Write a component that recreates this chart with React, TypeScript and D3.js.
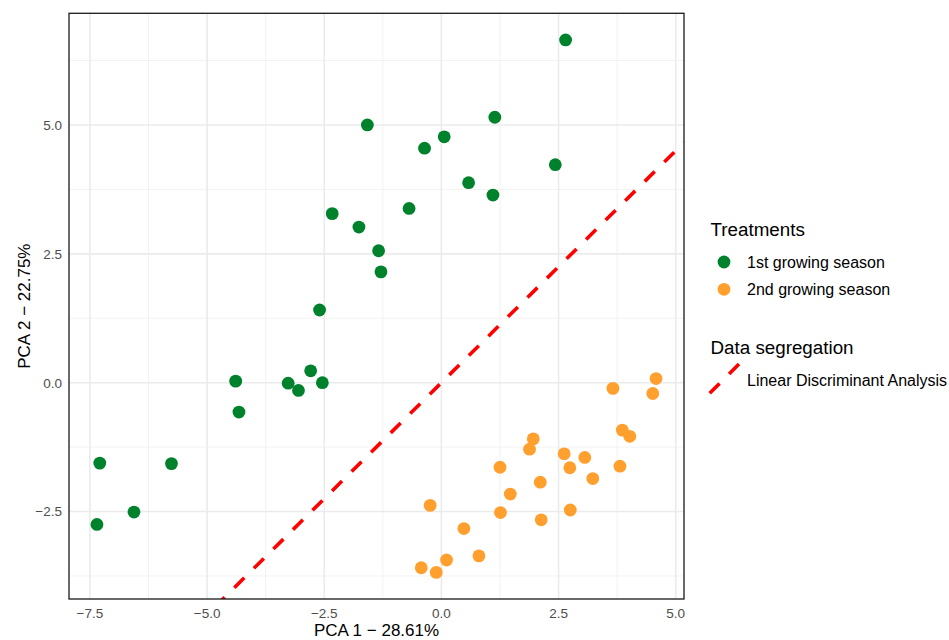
import React from "react";
import * as d3 from "d3";

// ---- data ----
const season1X = [2.65, -1.58, 1.14, 0.06, -0.36, 2.43, 0.58, 1.10, -0.69, -2.33, -1.76, -1.34, -1.29, -2.60, -4.39, -4.32, -3.27, -3.05, -2.79, -2.54, -7.29, -5.76, -6.56, -7.35];
const season1Y = [6.65, 5.00, 5.15, 4.77, 4.55, 4.23, 3.88, 3.64, 3.38, 3.28, 3.02, 2.56, 2.15, 1.41, 0.03, -0.57, -0.01, -0.15, 0.23, 0.00, -1.56, -1.57, -2.51, -2.75];
const season2X = [3.66, 4.58, 4.51, 3.86, 4.02, 1.96, 1.88, 2.62, 3.06, 1.25, 2.74, 3.81, 3.23, 2.11, 1.47, -0.24, 1.26, 2.75, 2.13, 0.48, 0.80, 0.11, -0.43, -0.11];
const season2Y = [-0.11, 0.08, -0.21, -0.92, -1.04, -1.09, -1.29, -1.38, -1.45, -1.64, -1.65, -1.62, -1.86, -1.93, -2.16, -2.38, -2.52, -2.47, -2.66, -2.83, -3.36, -3.44, -3.59, -3.68];
const ldaSlope = 0.9;
const ldaIntercept = 0.0;
const xTicks = [-7.5, -5.0, -2.5, 0.0, 2.5, 5.0];
const yTicks = [-2.5, 0.0, 2.5, 5.0];
const xMinor = [-6.25, -3.75, -1.25, 1.25, 3.75];
const yMinor = [-3.75, -1.25, 1.25, 3.75, 6.25];
const seriesLabels = ["1st growing season", "2nd growing season"];
const lineLabel = "Linear Discriminant Analysis";

const GREEN = "#00822D";
const ORANGE = "#FFA02E";
const FONT = "'Liberation Sans', Arial, Helvetica, sans-serif";

const fmt = (v: number) => {
  const s = Math.abs(v).toFixed(1);
  return v < 0 ? "\u2212" + s : s;
};

export default function App() {
  const left = 69, right = 684, top = 13.3, bottom = 599;
  const allX = [...season1X, ...season2X];
  const allY = [...season1Y, ...season2Y];
  const [x0, x1] = d3.extent(allX) as [number, number];
  const [y0, y1] = d3.extent(allY) as [number, number];
  const ex = (x1 - x0) * 0.05, ey = (y1 - y0) * 0.05;
  const x = d3.scaleLinear().domain([x0 - ex, x1 + ex]).range([left, right]);
  const y = d3.scaleLinear().domain([y0 - ey, y1 + ey]).range([bottom, top]);

  // LDA line across the x-domain
  const [dx0, dx1] = x.domain();
  const p0 = [x(dx0), y(ldaSlope * dx0 + ldaIntercept)];
  const p1 = [x(dx1), y(ldaSlope * dx1 + ldaIntercept)];
  const dash = 14, gap = 13.5, period = dash + gap;
  const anchorX = 2.254;
  const pa = [x(anchorX), y(ldaSlope * anchorX + ldaIntercept)];
  const L = Math.hypot(pa[0] - p0[0], pa[1] - p0[1]);
  const off = (period - (L % period)) % period;

  const pts1 = season1X.map((v, i) => [v, season1Y[i]]);
  const pts2 = season2X.map((v, i) => [v, season2Y[i]]);

  return (
    <svg width={949} height={640} style={{ position: "absolute", left: 0, top: 0, background: "#fff" }} fontFamily={FONT}>
      <defs>
        <clipPath id="panel">
          <rect x={left} y={top} width={right - left} height={bottom - top} />
        </clipPath>
      </defs>
      <rect x={0} y={0} width={949} height={640} fill="#fff" />
      {/* minor grid */}
      {xMinor.map((t) => (
        <line key={"xm" + t} x1={x(t)} x2={x(t)} y1={top} y2={bottom} stroke="#F2F2F2" strokeWidth={1} />
      ))}
      {yMinor.map((t) => (
        <line key={"ym" + t} x1={left} x2={right} y1={y(t)} y2={y(t)} stroke="#F2F2F2" strokeWidth={1} />
      ))}
      {/* major grid */}
      {xTicks.map((t) => (
        <line key={"xg" + t} x1={x(t)} x2={x(t)} y1={top} y2={bottom} stroke="#EBEBEB" strokeWidth={1.6} />
      ))}
      {yTicks.map((t) => (
        <line key={"yg" + t} x1={left} x2={right} y1={y(t)} y2={y(t)} stroke="#EBEBEB" strokeWidth={1.6} />
      ))}
      {/* points */}
      <g>
        {pts1.map((p, i) => (
          <circle key={"a" + i} cx={x(p[0])} cy={y(p[1])} r={6.4} fill={GREEN} />
        ))}
        {pts2.map((p, i) => (
          <circle key={"b" + i} cx={x(p[0])} cy={y(p[1])} r={6.4} fill={ORANGE} />
        ))}
      </g>
      {/* LDA line */}
      <g clipPath="url(#panel)">
        <line x1={p0[0]} y1={p0[1]} x2={p1[0]} y2={p1[1]} stroke="#FF0000" strokeWidth={3.6}
          strokeDasharray={`${dash} ${gap}`} strokeDashoffset={off} />
      </g>
      {/* panel border */}
      <rect x={left} y={top} width={right - left} height={bottom - top} fill="none" stroke="#1a1a1a" strokeWidth={1.3} />
      {/* tick labels */}
      {xTicks.map((t) => (
        <text key={"xt" + t} x={x(t)} y={618} textAnchor="middle" fontSize={13.5} fill="#4D4D4D">{fmt(t)}</text>
      ))}
      {yTicks.map((t) => (
        <text key={"yt" + t} x={62} y={y(t)} dy="0.36em" textAnchor="end" fontSize={13.5} fill="#4D4D4D">{fmt(t)}</text>
      ))}
      {/* axis titles */}
      <text x={(left + right) / 2} y={636} textAnchor="middle" fontSize={17} fill="#000">PCA 1 {"\u2212"} 28.61%</text>
      <text transform={`translate(29.5, ${(top + bottom) / 2}) rotate(-90)`} textAnchor="middle" fontSize={17} fill="#000">PCA 2 {"\u2212"} 22.75%</text>
      {/* legend */}
      <text x={710.5} y={236} fontSize={18.8} fill="#000">Treatments</text>
      <circle cx={724} cy={262} r={6.4} fill={GREEN} />
      <text x={747} y={267.7} fontSize={16} fill="#000">{seriesLabels[0]}</text>
      <circle cx={724} cy={289.3} r={6.4} fill={ORANGE} />
      <text x={747} y={295} fontSize={16} fill="#000">{seriesLabels[1]}</text>
      <text x={710.5} y={354} fontSize={18.8} fill="#000">Data segregation</text>
      <line x1={739} y1={364} x2={709} y2={394} stroke="#FF0000" strokeWidth={3.6} strokeDasharray={`${dash} ${gap}`} />
      <text x={747} y={385.7} fontSize={16} fill="#000">{lineLabel}</text>
    </svg>
  );
}
